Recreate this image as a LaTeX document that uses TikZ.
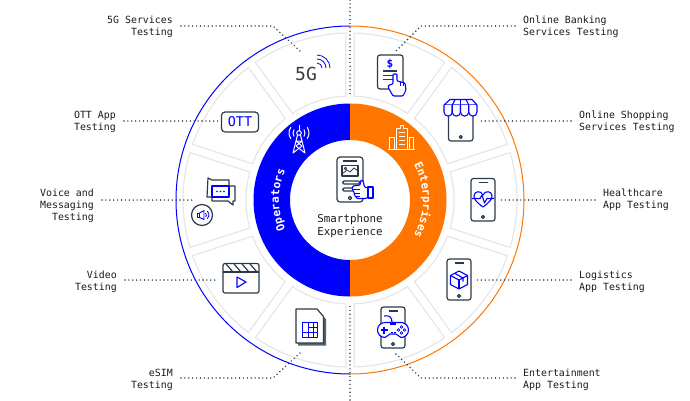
\documentclass[tikz,border=0pt]{standalone}
\usepackage{fontspec}
\usepackage{xcolor}
\setmonofont{DejaVu Sans Mono}
\usetikzlibrary{decorations.text,positioning}

\definecolor{ringblue}{HTML}{0000FF}
\definecolor{ringorange}{HTML}{FF7500}
\definecolor{icondark}{HTML}{2A3A48}
\definecolor{seggray}{HTML}{E6E6E6}
\definecolor{labelink}{HTML}{1A1A1A}

% phone outline with speaker slit and button
\newcommand{\phoneicon}[4]{
  \draw[icon, rounded corners=2.5pt] (#1,#2) rectangle (#3,#4);
  \draw[icon] ({(#1+#3)/2-4.5},{#2+4}) -- ({(#1+#3)/2+4.5},{#2+4});
  \draw[icon] ({(#1+#3)/2},{#4-4}) circle (1.5);
}

\begin{document}
\begin{tikzpicture}[
  x=1pt, y=-1pt,
  font=\ttfamily,
  lblleft/.style={font=\fontsize{9.9}{12}\selectfont\ttfamily, text=labelink, align=right, anchor=east, inner xsep=8pt, inner ysep=0pt},
  lblright/.style={font=\fontsize{9.9}{12}\selectfont\ttfamily, text=labelink, align=left, anchor=west, inner xsep=8pt, inner ysep=0pt},
  dotline/.style={draw=icondark, line width=1.6pt, line cap=round, dash pattern=on 0pt off 3.9pt},
  segment/.style={draw=seggray, line width=1.2pt},
  icon/.style={draw=icondark, line width=1.2pt, line join=round},
  iconb/.style={draw=ringblue, line width=1.1pt, line join=round},
  iconw/.style={draw=white, line width=1pt, line join=round}
]
\useasboundingbox (0,0) rectangle (690,400);

% outer thin circle
\draw[ringblue, line width=1pt] (350,26) arc[start angle=-90, end angle=-270, radius=174];
\draw[ringorange, line width=1pt] (350,26) arc[start angle=-90, end angle=90, radius=174];

% ten gray segments
\foreach \i in {0,...,9} {
  \pgfmathsetmacro{\aa}{-90+36*\i}
  \pgfmathsetmacro{\ab}{-54+36*\i}
  \draw[segment, shift={(350,200)}]
    ({\aa+1.47}:167) arc[start angle={\aa+1.47}, end angle={\ab-1.47}, radius=167]
    -- ({\ab-2.37}:104) arc[start angle={\ab-2.37}, end angle={\aa+2.37}, radius=104] -- cycle;
}

% blue and orange ring
\fill[ringblue] (350,103.5) arc[start angle=-90, end angle=-270, radius=96.5]
  -- (350,260) arc[start angle=90, end angle=270, radius=60] -- cycle;
\fill[ringorange] (350,103.5) arc[start angle=-90, end angle=90, radius=96.5]
  -- (350,260) arc[start angle=90, end angle=-90, radius=60] -- cycle;

\path[shift={(350,200)}, decorate, decoration={text along path, text align=center,
  text={|\fontsize{11.2}{12}\selectfont\ttfamily\bfseries\color{white}|Operators}}]
  (120:71) arc[start angle=120, end angle=240, radius=71];
\path[shift={(350,200)}, decorate, decoration={text along path, text align=center,
  text={|\fontsize{11.2}{12}\selectfont\ttfamily\bfseries\color{white}|Enterprises}}]
  (-60:73) arc[start angle=-60, end angle=60, radius=73];

% labels
\node[lblleft] (lblfiveg) at (181,27) {5G Services\\Testing};
\node[lblleft] (lblott) at (124,122) {OTT App\\Testing};
\node[lblleft] (lblvoice) at (102,206) {Voice and\\Messaging\\Testing};
\node[lblleft] (lblvideo) at (125,282) {Video\\Testing};
\node[lblleft] (lblesim) at (181,380) {eSIM\\Testing};
\node[lblright] (lblbank) at (515,27) {Online Banking\\Services Testing};
\node[lblright] (lblshop) at (571,122) {Online Shopping\\Services Testing};
\node[lblright] (lblhealth) at (595,200) {Healthcare\\App Testing};
\node[lblright] (lbllog) at (571,282) {Logistics\\App Testing};
\node[lblright] (lblgame) at (515,380) {Entertainment\\App Testing};

% connector ends
\coordinate (bendfiveg) at (273,26);
\coordinate (endfiveg) at (300,51);
\coordinate (endott) at (218,121);
\coordinate (endvoice) at (193,200);
\coordinate (endvideo) at (218,280);
\coordinate (bendesim) at (273,378);
\coordinate (endesim) at (300,353);
\coordinate (bendbank) at (421,26);
\coordinate (endbank) at (395,52);
\coordinate (endshop) at (478,121);
\coordinate (endhealth) at (500,200);
\coordinate (endlog) at (477,280);
\coordinate (bendgame) at (421,378);
\coordinate (endgame) at (395,353);
\coordinate (axistop) at (350,0);
\coordinate (axistopend) at (350,97);
\coordinate (axisbot) at (350,400);
\coordinate (axisbotend) at (350,303);

\draw[dotline] (axistop) -- (axistopend);
\draw[dotline] (axisbot) -- (axisbotend);
\draw[dotline] (lblfiveg.east |- bendfiveg) -- (bendfiveg) -- (endfiveg);
\draw[dotline] (lblott.east |- endott) -- (endott);
\draw[dotline] (lblvoice.east |- endvoice) -- (endvoice);
\draw[dotline] (lblvideo.east |- endvideo) -- (endvideo);
\draw[dotline] (lblesim.east |- bendesim) -- (bendesim) -- (endesim);
\draw[dotline] (lblbank.west |- bendbank) -- (bendbank) -- (endbank);
\draw[dotline] (lblshop.west |- endshop) -- (endshop);
\draw[dotline] (lblhealth.west |- endhealth) -- (endhealth);
\draw[dotline] (lbllog.west |- endlog) -- (endlog);
\draw[dotline] (lblgame.west |- bendgame) -- (bendgame) -- (endgame);

% 5G
\node[font=\fontsize{18}{20}\selectfont\ttfamily, text=labelink!85, inner sep=0pt] (fiveg) at (306,74) {5G};
\foreach \r in {5,9,13} {
  \draw[iconb, line width=0.8pt] (317,{68-\r}) arc[start angle=-90, end angle=0, radius=\r];
}

% OTT
\node[draw=icondark, line width=1.2pt, rounded corners=3.5pt, minimum width=37pt, minimum height=20pt, inner sep=0pt,
  text=ringblue, font=\fontsize{13.4}{14}\selectfont\ttfamily] (ott) at (240,122) {OTT};

% voice and messaging
\draw[icon] (208,178) -- (212,180) -- (229,180) -- (229,186) -- (235,186) -- (235,201) -- (233,201) -- (233,205) -- (228,201) -- (212,201) -- (212,197) -- (207,197) -- cycle;
\draw[iconb, fill=white] (212,186) rectangle (229,197);
\foreach \x in {217,220.5,224} { \fill[ringblue] (\x,191.5) circle (0.8); }
\draw[icon] (202,215) circle (10.5);
\draw[iconb, line width=0.9pt] (197,213) rectangle (199.5,217.5);
\draw[iconb, line width=0.9pt] (199.5,213) -- (204,210.5) -- (204,219.5) -- (199.5,217.5);
\foreach \r in {2.5,5} {
  \draw[iconb, line width=0.8pt] (204,215) ++(-50:\r) arc[start angle=-50, end angle=50, radius=\r];
}

% video
\draw[icon, rounded corners=2pt] (223,263.5) rectangle (259,293);
\draw[icon] (223,272) -- (259,272);
\foreach \x in {226,234,242,250} { \draw[icon] (\x,264) -- ({\x+7},272); }
\draw[iconb] (237,277) -- (246,282) -- (237,287.5) -- cycle;

% eSIM
\fill[icondark!80] (298,312) -- (319,312) -- (326,319) -- (326,345.5) -- (298,345.5) -- cycle;
\draw[icon, fill=white] (296,309) -- (317,309) -- (323.5,316.5) -- (323.5,343) -- (296,343) -- cycle;
\draw[iconb, line width=0.9pt] (302,322) rectangle (317,337);
\draw[iconb, line width=0.7pt] (308,322) -- (308,337);
\draw[iconb, line width=0.7pt] (313,322) -- (313,337);
\draw[iconb, line width=0.7pt] (302,332) -- (317,332);
\draw[iconb, line width=0.7pt] (308,327) -- (317,327);

% banking
\draw[icon, rounded corners=2.5pt] (377.5,55) rectangle (403,89);
\node[text=ringblue, font=\fontsize{11}{12}\selectfont\ttfamily\bfseries, inner sep=0pt] (dollar) at (390,64.5) {\$};
\draw[icon] (383,71) -- (397,71);
\draw[icon] (383,75.5) -- (397,75.5);
\draw[icon] (383,79.5) -- (397,79.5);
\draw[iconb, fill=white, rounded corners=1pt] (393,84) -- (393,74) -- (397,74) -- (397,81) -- (405,83) -- (406,90) -- (403,96) -- (393,96) -- (388,87) -- (389,85) -- cycle;
\draw[iconb, line width=0.8pt] (400,82) -- (400,86);
\draw[iconb, line width=0.8pt] (403,83) -- (403,86);

% shopping
\phoneicon{448.5}{108}{473}{141}
\draw[iconb, fill=white] (450,99.5) -- (472,99.5) -- (477,105) -- (444,105) -- cycle;
\foreach \x in {444,452.25,460.5,468.75} {
  \draw[iconb, fill=white] (\x,105) -- (\x,112) arc[start angle=180, end angle=0, radius=4.125] -- ({\x+8.25},105);
}
\draw[iconb] (455,99.5) -- (452.25,105);
\draw[iconb] (460.5,99.5) -- (460.5,105);
\draw[iconb] (466,99.5) -- (468.75,105);

% healthcare
\phoneicon{471}{178.5}{495}{221}
\draw[iconb] (483,207) .. controls (476,202) and (474,199) .. (474,196) .. controls (474,191) and (481,190) .. (483,195) .. controls (485,190) and (492,191) .. (492,196) .. controls (492,199) and (490,202) .. (483,207);
\draw[iconb] (472,198.5) -- (480,198.5) -- (482,195) -- (484.5,203) -- (487,198.5) -- (494,198.5);

% logistics
\phoneicon{447}{259}{471}{300}
\draw[iconb] (459,271) -- (467.5,275.5) -- (467.5,284.5) -- (459,289) -- (450.5,284.5) -- (450.5,275.5) -- cycle;
\draw[iconb] (450.5,275.5) -- (459,280) -- (467.5,275.5);
\draw[iconb] (459,280) -- (459,289);
\draw[iconb] (455,273.5) -- (463,278) -- (463,281.5);

% entertainment
\phoneicon{381}{307}{405}{348}
\draw[iconb] (384,316) .. controls (389,315) and (392,317) .. (392,322);
\draw[iconb, fill=white] (385,322.5) -- (401,322.5) arc[start angle=-90, end angle=90, radius=7.5]
  -- (396,334) -- (390,334) -- (385,337.5) arc[start angle=90, end angle=270, radius=7.5] -- cycle;
\fill[ringblue] (390,321.5) rectangle (396,325);
\draw[iconb] (380.5,330) -- (387.5,330);
\draw[iconb] (384,326.5) -- (384,333.5);
\draw[iconb, line width=0.8pt] (390.5,332) -- (392.5,332);
\draw[iconb, line width=0.8pt] (394,332) -- (396,332);
\foreach \dx/\dy in {0/-3,3/0,0/3,-3/0} {
  \draw[iconb, line width=0.8pt] ({401.5+\dx},{330+\dy}) circle (1.4);
}

% tower on the blue ring
\draw[iconw] (299,125) -- (299,131);
\draw[iconw] (299,133) circle (2.3);
\draw[iconw] (297.5,135) -- (293,153) -- (302,146) -- (296,141) -- (302,141);
\draw[iconw] (300.5,135) -- (305,153) -- (296,146) -- (302,141);
\foreach \r in {6,10} {
  \draw[iconw] (299,133) ++(-35:\r) arc[start angle=-35, end angle=35, radius=\r];
  \draw[iconw] (299,133) ++(145:\r) arc[start angle=145, end angle=215, radius=\r];
}

% buildings on the orange ring
\draw[iconw] (396.5,149) -- (396.5,128) -- (400,128) -- (400,125.5) -- (403.5,125.5) -- (403.5,128) -- (407,128) -- (407,149);
\foreach \y in {132,136,140,144} { \draw[iconw, line width=0.7pt] (399,\y) -- (404.5,\y); }
\draw[iconw] (389.5,149) -- (389.5,137) -- (394,137) -- (394,149);
\draw[iconw] (409,149) -- (409,137) -- (413.5,137) -- (413.5,149);
\draw[iconw] (388,149) -- (415,149);

% central phone
\draw[icon, rounded corners=3pt] (337,157) rectangle (363,202);
\draw[icon] (343,161) -- (357,161);
\draw[icon] (342,165.5) rectangle (358,176);
\draw[icon, line width=0.8pt] (342,174) -- (347,170) -- (350,172) -- (354,168) -- (358,171);
\draw[icon, line width=0.8pt] (345.5,168.5) circle (1.2);
\draw[icon, rounded corners=1.5pt] (342.5,181) rectangle (360,184);
\draw[icon, rounded corners=1.5pt] (342.5,188) rectangle (356,191);
\draw[icon] (350,198) circle (1.8);
\draw[iconb, fill=white, rounded corners=0.8pt] (368,188) -- (364.5,187) -- (363,181) -- (361,180) -- (360,185) -- (353,186) -- (352,189) -- (354,192) -- (354.5,195) -- (357,198.5) -- (366,198.5) -- (368,197) -- cycle;
\draw[iconb, fill=white] (368,187) rectangle (373,198);
\draw[iconb, line width=0.8pt] (353,189.5) -- (360,189.5);
\draw[iconb, line width=0.8pt] (354.5,193) -- (360,193);
\draw[iconb, line width=0.8pt] (355,196) -- (360,196);

% centre text
\node[font=\fontsize{10.8}{13}\selectfont\ttfamily, text=labelink, align=center, inner sep=0pt] (centre) at (350,226.5) {Smartphone\\Experience};
\end{tikzpicture}
\end{document}
